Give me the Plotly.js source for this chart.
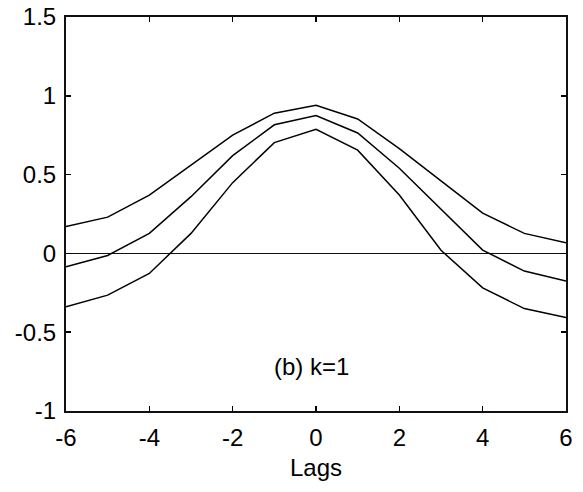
<!DOCTYPE html>
<html>
<head>
<meta charset="utf-8">
<script src="https://cdn.plot.ly/plotly-3.0.1.min.js"></script>
<style>html,body{margin:0;padding:0;background:#fff;}#chart{width:583px;height:492px;}</style>
</head>
<body>
<div id="chart"></div>
<script>
const lags = [-6, -5, -4, -3, -2, -1, 0, 1, 2, 3, 4, 5, 6];
const upperBand = [0.17, 0.23, 0.37, 0.56, 0.75, 0.89, 0.94, 0.853, 0.665, 0.46, 0.255, 0.127, 0.067];
const estimate  = [-0.085, -0.013, 0.127, 0.36, 0.62, 0.816, 0.875, 0.764, 0.54, 0.28, 0.021, -0.112, -0.176];
const lowerBand = [-0.339, -0.265, -0.127, 0.127, 0.449, 0.703, 0.788, 0.655, 0.37, 0.02, -0.219, -0.35, -0.407];
const xTicks = [-6, -4, -2, 0, 2, 4, 6];
const yTicks = [-1, -0.5, 0, 0.5, 1, 1.5];
const yTickLabels = ['-1', '-0.5', '0', '0.5', '1', '1.5'];
const panelLabel = '(b) k=1';
const xTitle = 'Lags';

const lineStyle = {color: '#000', width: 1.5};
const traces = [upperBand, estimate, lowerBand].map(v => ({
  x: lags, y: v, type: 'scatter', mode: 'lines', line: lineStyle, hoverinfo: 'skip'
}));

const font = {family: 'Liberation Sans, Arial, sans-serif', size: 24, color: '#000'};

const layout = {
  width: 583, height: 492,
  margin: {l: 66, r: 17, t: 17, b: 81},
  paper_bgcolor: '#fff', plot_bgcolor: '#fff',
  showlegend: false,
  font: font,
  xaxis: {
    range: [-6, 6], tickvals: xTicks, ticktext: xTicks.map(String),
    showgrid: false, zeroline: false,
    showline: true, linecolor: '#111', linewidth: 2, mirror: 'ticks',
    ticks: 'inside', ticklen: 5, tickcolor: '#000', tickwidth: 1.6,
    tickfont: font, ticklabelstandoff: 4,
    title: {text: xTitle, font: font, standoff: 9}
  },
  yaxis: {
    range: [-1, 1.5], tickvals: yTicks, ticktext: yTickLabels,
    showgrid: false,
    zeroline: true, zerolinecolor: '#111', zerolinewidth: 1.8,
    showline: true, linecolor: '#111', linewidth: 2, mirror: 'ticks',
    ticks: 'inside', ticklen: 5, tickcolor: '#000', tickwidth: 1.6,
    tickfont: font, ticklabelstandoff: 3
  },
  annotations: [{
    x: -0.1, y: -0.72, xref: 'x', yref: 'y', text: panelLabel,
    showarrow: false, font: font, xanchor: 'center', yanchor: 'middle'
  }]
};

Plotly.newPlot('chart', traces, layout, {staticPlot: true, displayModeBar: false});
</script>
</body>
</html>
